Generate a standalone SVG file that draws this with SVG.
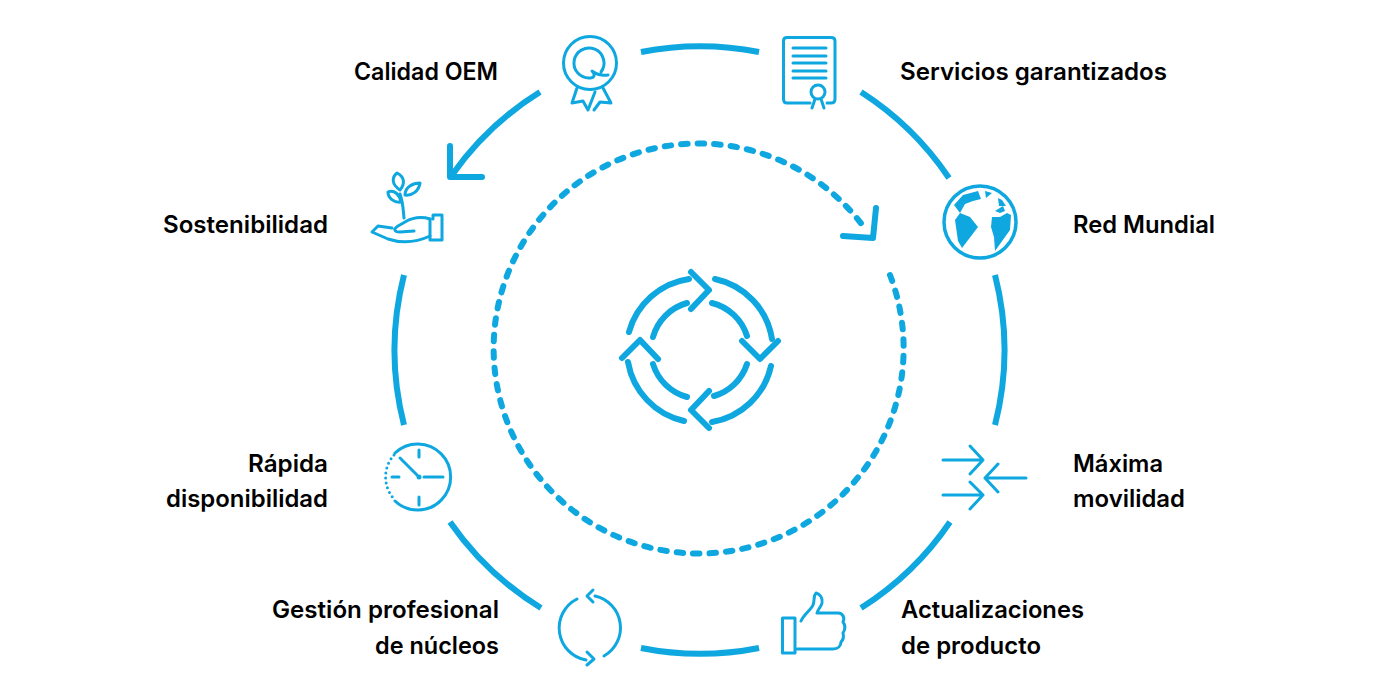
<svg xmlns="http://www.w3.org/2000/svg" width="1400" height="700" viewBox="0 0 1400 700">
<style>
.t{font-family:"Inter","Liberation Sans",sans-serif;font-weight:600;font-size:24px;fill:#000}
.e{text-anchor:end}
.ring{fill:none;stroke:#0ea7e0;stroke-width:6}
.c{fill:none;stroke:#0ea7e0;stroke-width:6;stroke-linecap:round;stroke-linejoin:round}
.i{fill:none;stroke:#0ea7e0;stroke-width:3;stroke-linecap:round;stroke-linejoin:round}
.f{fill:#0ea7e0}
</style>
<rect width="1400" height="700" fill="#fff"/>
<g id="connectors">
<path class="ring" d="M641,52 A303,303 0 0 1 759,52"/>
<path class="ring" d="M861,92 A303,303 0 0 1 949,178"/>
<path class="ring" d="M995,275 A303,303 0 0 1 995,425"/>
<path class="ring" d="M950,522 A303,303 0 0 1 861,608"/>
<path class="ring" d="M759,648 A303,303 0 0 1 641,648"/>
<path class="ring" d="M541,608 A303,303 0 0 1 450,522"/>
<path class="ring" d="M404,425 A303,303 0 0 1 404,275"/>
<path class="ring" d="M540,92 A303,303 0 0 0 452,175"/>
<path class="ring" stroke-linecap="round" stroke-linejoin="round" d="M450,146 V177 H482"/>
<path class="ring" stroke-linecap="round" stroke-dasharray="6.500 10" d="M890,275 A205,205 0 1 1 863,226"/>
<path class="ring" stroke-linecap="round" stroke-linejoin="round" d="M876,208 L873,238 L843,236"/>
</g>
<g id="center-cycle">
<path class="c" d="M629,332 A73,73 0 0 1 689,279"/><path class="c" d="M691,272 L709,290 L691,309"/>
<path class="c" d="M715,279 A73,73 0 0 1 772,339"/><path class="c" d="M742,341 L760,359 L778,341"/>
<path class="c" d="M771,366 A73,73 0 0 1 712,422"/><path class="c" d="M709,391 L691,410 L709,428"/>
<path class="c" d="M684,421 A73,73 0 0 1 628,362"/><path class="c" d="M622,358 L640,340 L658,359"/>
<path class="c" d="M687,303 A49,49 0 0 0 653,337"/>
<path class="c" d="M712,303 A49,49 0 0 1 747,336"/>
<path class="c" d="M747,364 A49,49 0 0 1 714,396"/>
<path class="c" d="M687,397 A49,49 0 0 1 653,364"/>
</g>
<g id="calidad-oem">
<circle class="i" cx="590" cy="63" r="26.500"/>
<path class="i" d="M601,72 A15,15 0 1 0 590,78 C594,78 596,75 592,71 C596,74 602,76 608,75"/>
<path class="i" d="M577,88 L572,103 L583,101 L588,110 L595,92"/>
<path class="i" d="M603,88 L611,103 L600,102 L594,110"/>
<text class="t" x="354" y="80" textLength="144" lengthAdjust="spacingAndGlyphs">Calidad OEM</text>
</g>
<g id="servicios-garantizados">
<path class="i" d="M810,103 H787 Q783.500,103 783.500,99 V41 Q783.500,37.500 787,37.500 H831 Q835,37.500 835,41 V99 Q835,103 831,103 H827"/>
<path class="i" d="M793,48 H826 M793,56 H826 M793,63 H826 M793,71 H826 M793,78 H826"/>
<circle class="i" cx="818" cy="92" r="7"/>
<path class="i" d="M815,99 L812,108 M821,99 L824,108"/>
<text class="t" x="900" y="80" textLength="267" lengthAdjust="spacingAndGlyphs">Servicios garantizados</text>
</g>
<g id="red-mundial">
<circle fill="none" stroke="#0ea7e0" stroke-width="3.500" cx="980" cy="222" r="36"/>
<path class="f" d="M954,205 L963,195 L978,191 L981,199 L973,201 L965,204 L960,213 Z"/>
<path class="f" d="M960,213 L955,220 L958,241 L962,248 L978,227 L970,217 Z"/>
<path class="f" d="M992,217 L1000,217 L1007,213 L1011,215 L1010,230 L995,251 L994,237 L991,227 Z"/>
<path class="f" d="M985,191 L992,193 L986,198 Z"/>
<path class="f" d="M998,198 L1002,200 L1006,206 L999,206 Z"/>
<path class="f" d="M995,211 L1003,206 L1005,211 L1000,213 Z"/>
<text class="t" x="1073" y="233" textLength="142" lengthAdjust="spacingAndGlyphs">Red Mundial</text>
</g>
<g id="maxima-movilidad">
<path class="i" d="M943,460 H983 M970,446 L983,460 L970,474"/>
<path class="i" d="M943,495 H983 M970,482 L983,495 L970,509"/>
<path class="i" d="M1026,478 H985 M998,464 L985,478 L998,492"/>
<text class="t" x="1073" y="472" textLength="90" lengthAdjust="spacingAndGlyphs">Máxima</text>
<text class="t" x="1073" y="507" textLength="112" lengthAdjust="spacingAndGlyphs">movilidad</text>
</g>
<g id="actualizaciones">
<path class="i" d="M795,618 H782.500 V653 H795 V618"/>
<path class="i" d="M801,621 C804,614 811,610 813,605 C815,600 813,596 816,593 C820,594 823,598 822,603 C821,607 818,609 817,613 H838 C843,613 845,618 843,622 C846,626 845,630 843,633 C844,637 843,640 841,642 C841,646 838,649 833,649 H797"/>
<text class="t" x="901" y="618" textLength="183" lengthAdjust="spacingAndGlyphs">Actualizaciones</text>
<text class="t" x="901" y="654" textLength="140" lengthAdjust="spacingAndGlyphs">de producto</text>
</g>
<g id="gestion-nucleos">
<path class="i" d="M577,599 A32.500,32.500 0 0 0 586,660"/>
<path class="i" d="M595,596 A32.500,32.500 0 0 1 604,656"/>
<path class="i" d="M593,590 L587,596 L593,602"/>
<path class="i" d="M587,652 L594,659 L587,665"/>
<text class="t e" x="499" y="618" textLength="227" lengthAdjust="spacingAndGlyphs">Gestión profesional</text>
<text class="t e" x="499" y="654" textLength="124" lengthAdjust="spacingAndGlyphs">de núcleos</text>
</g>
<g id="rapida-disponibilidad">
<path class="i" d="M395,453 A33,33 0 1 1 395,501"/>
<path class="i" stroke-width="3.500" stroke-dasharray="0 5" d="M394,455 A33,33 0 0 0 394,499"/>
<path class="i" d="M419,450 V457 M419,497 V505 M392,477 H399 M424,477 H443 M400,458 L417,475"/>
<circle class="f" cx="419" cy="477" r="2.500"/>
<text class="t e" x="328" y="472" textLength="80" lengthAdjust="spacingAndGlyphs">Rápida</text>
<text class="t e" x="328" y="507" textLength="162" lengthAdjust="spacingAndGlyphs">disponibilidad</text>
</g>
<g id="sostenibilidad">
<path class="i" d="M433,219 V215 H442 V240 H430 V219"/>
<path class="i" d="M430,219 C420,216 412,218 405,222 L398,226 C393,229 394,232 400,232 L414,231 M392,228 L378,226 L372,232 L388,239 C400,243 415,243 430,236"/>
<path class="i" d="M404,218 C403,208 403,202 400,194"/>
<path class="i" d="M400,190 C391,184 392,177 397,173 C405,177 405,184 400,190 Z"/>
<path class="i" d="M405,195 C405,187 413,183 420,183 C419,191 412,196 405,195 Z"/>
<path class="i" d="M401,202 C394,203 388,198 388,192 C394,189 400,195 401,202 Z"/>
<text class="t e" x="328" y="233" textLength="165" lengthAdjust="spacingAndGlyphs">Sostenibilidad</text>
</g>
</svg>
